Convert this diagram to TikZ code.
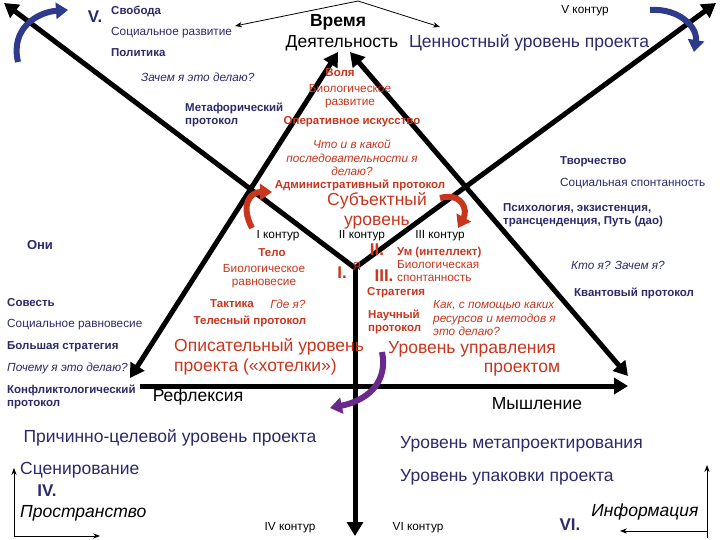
\documentclass[tikz,border=0pt]{standalone}
\usepackage{fontspec}
\setmainfont{Liberation Sans}
\usetikzlibrary{arrows.meta}
\definecolor{navy}{HTML}{2B2A6B}
\definecolor{rd}{HTML}{C8361E}
\definecolor{bluearr}{HTML}{2E3A8C}
\definecolor{purp}{HTML}{6A2A8A}
\tikzset{
  big/.style={line width=5pt,-{Triangle[length=14pt,width=16pt]}},
  thin/.style={line width=0.8pt,-{Stealth[length=7pt]}},
  curv/.style={line width=6pt,-{Triangle[length=12pt,width=16pt]}},
  sm/.style={font=\fontsize{11.8}{13.5}\selectfont,inner sep=0pt},
  smb/.style={font=\fontsize{11.5}{13.5}\selectfont\bfseries,inner sep=0pt},
  smi/.style={font=\fontsize{11.8}{13.5}\selectfont\itshape,inner sep=0pt},
  lg/.style={font=\fontsize{17.5}{20}\selectfont,inner sep=0pt},
  lgi/.style={font=\fontsize{17.5}{20}\selectfont\itshape,inner sep=0pt},
  rom/.style={font=\fontsize{17}{19}\selectfont\bfseries,inner sep=0pt}
}
\begin{document}
\begin{tikzpicture}[x=1pt,y=-1pt]
\useasboundingbox[fill=white] (0,0) rectangle (720,540);
\coordinate (C) at (355,268);
\coordinate (TL) at (4,3);
\coordinate (TR) at (716,3);
\coordinate (B) at (355,536);
\coordinate (AL) at (338,52);
\coordinate (AR) at (350,52);
\coordinate (LL) at (130,378);
\coordinate (RR) at (628,376);
\coordinate (BL) at (140,386);
\coordinate (BR) at (628,386);
\coordinate (T0) at (358,1);
\coordinate (ta) at (235,26);
\coordinate (tb) at (440,27);
\draw[big] (C) -- (TL);
\draw[big] (C) -- (TR);
\draw[big] (C) -- (B);
\draw[big] (BL) -- (BR);
\draw[big,{Triangle[length=14pt,width=16pt]}-{Triangle[length=14pt,width=16pt]}] (LL) -- (AL);
\draw[big,{Triangle[length=14pt,width=16pt]}-{Triangle[length=14pt,width=16pt]}] (RR) -- (AR);
\draw[thin] (T0) -- (ta);
\draw[thin] (T0) -- (tb);
\coordinate (a1) at (14,536); \coordinate (a2) at (14,468); \coordinate (a3) at (100,536);
\draw[thin] (a1) -- (a2); \draw[thin] (a1) -- (a3);
\coordinate (b1) at (707,538); \coordinate (b2) at (707,465); \coordinate (b3) at (620,531); \coordinate (b4) at (707,531);
\draw[thin] (b1) -- (b2); \draw[thin] (b4) -- (b3);
\draw[curv,bluearr] (18,62) .. controls (10,28) and (38,12) .. (68,10);
\draw[curv,bluearr] (650,10) .. controls (680,8) and (698,28) .. (694,52);
\draw[curv,rd] (252,228) .. controls (240,205) and (250,192) .. (272,192);
\draw[curv,rd] (440,198) .. controls (462,192) and (468,210) .. (458,228);
\draw[curv,purp] (382,352) .. controls (388,380) and (370,400) .. (330,408);
\node[rom,navy] (v) at (95,17) {V.};
\node[smb,navy,anchor=west] (svob) at (111,11) {Свобода};
\node[sm,navy,anchor=west] (socr) at (111,33) {Социальное развитие};
\node[smb,navy,anchor=west] (pol) at (111,53) {Политика};
\node[smi,navy,anchor=west] (zach) at (141,77) {Зачем я это делаю?};
\node[smb,navy,anchor=west,align=left] (met) at (185,115) {Метафорический\\протокол};
\node[font=\fontsize{17.5}{19}\selectfont\bfseries,inner sep=0pt] (vr) at (338,22) {Время};
\node[lg] (deya) at (342,43) {Деятельность};
\node[lg,navy] (cen) at (529,43) {Ценностный уровень проекта};
\node[sm] (v5) at (585,11) {V контур};
\node[smb,rd] (vol) at (340,73) {Воля};
\node[sm,rd,align=center] (bior) at (350,96) {Биологическое\\развитие};
\node[smb,rd] (oper) at (352,122) {Оперативное искусство};
\node[smi,rd,align=center] (chto) at (352,158) {Что и в какой\\последовательности я\\делаю?};
\node[smb,rd] (adm) at (360,185) {Административный протокол};
\node[lg,rd,align=center] (subj) at (377,211) {Субъектный\\уровень};
\node[smb,navy,anchor=west] (tvor) at (560,162) {Творчество};
\node[sm,navy,anchor=west] (socs) at (560,184) {Социальная спонтанность};
\node[smb,navy,anchor=west,align=left] (psy) at (503,215) {Психология, экзистенция,\\трансценденция, Путь (дао)};
\node[smi,navy] (kto) at (618,265) {Кто я? Зачем я?};
\node[smb,navy] (kvant) at (634,293) {Квантовый протокол};
\node[sm] (k1) at (278,236) {I контур};
\node[sm] (k2) at (362,236) {II контур};
\node[sm] (k3) at (440,236) {III контур};
\node[smb,rd] (telo) at (272,253) {Тело};
\node[sm,rd,align=center] (bioravn) at (264,276) {Биологическое\\равновесие};
\node[rom,rd] (r2) at (377,250) {II.};
\node[sm,rd] (ya) at (357,266) {Я};
\node[rom,rd] (r1) at (342,273) {I.};
\node[rom,rd] (r3) at (384,276) {III.};
\node[smb,rd,anchor=west] (um) at (397,253) {Ум (интеллект)};
\node[sm,rd,anchor=west,align=left] (bios) at (397,271) {Биологическая\\спонтанность};
\node[smb,rd,anchor=west] (strat) at (367,293) {Стратегия};
\node[smb,rd] (takt) at (232,304) {Тактика};
\node[smi,rd] (gde) at (288,304) {Где я?};
\node[smb,rd] (tel) at (250,321) {Телесный протокол};
\node[smb,rd,anchor=west,align=left] (nauch) at (368,322) {Научный\\протокол};
\node[smi,rd,anchor=west,align=left] (kak) at (433,318) {Как, с помощью каких\\ресурсов и методов я\\это делаю?};
\node[lg,rd,align=left,anchor=west] (opis) at (174,357) {Описательный уровень\\проекта («хотелки»)};
\node[lg,rd,anchor=west] (upr) at (388,349) {Уровень управления};
\node[lg,rd] (upr2) at (522,370) {проектом};
\node[font=\fontsize{13}{15}\selectfont\bfseries,navy,inner sep=0pt] (oni) at (40,245) {Они};
\node[smb,navy,anchor=west] (sov) at (7,303) {Совесть};
\node[sm,navy,anchor=west] (socrav) at (7,325) {Социальное равновесие};
\node[smb,navy,anchor=west] (bstr) at (7,347) {Большая стратегия};
\node[smi,navy,anchor=west] (poch) at (7,368) {Почему я это делаю?};
\node[smb,navy,anchor=west,align=left] (konf) at (7,397) {Конфликтологический\\протокол};
\node[lg] (refl) at (198,397) {Рефлексия};
\node[lg] (mysh) at (537,404) {Мышление};
\node[lg,navy] (prich) at (170,438) {Причинно-целевой уровень проекта};
\node[lg,navy,anchor=west] (meta) at (400,444) {Уровень метапроектирования};
\node[lg,navy,anchor=west] (upak) at (400,477) {Уровень упаковки проекта};
\node[lg,navy,anchor=west] (scen) at (20,470) {Сценирование};
\node[rom,navy] (r4) at (47,491) {IV.};
\node[lgi,anchor=west] (prost) at (20,513) {Пространство};
\node[sm] (k4) at (290,528) {IV контур};
\node[sm] (k6) at (418,528) {VI контур};
\node[rom,navy] (r6) at (570,525) {VI.};
\node[lgi] (inf) at (645,512) {Информация};
\end{tikzpicture}
\end{document}
